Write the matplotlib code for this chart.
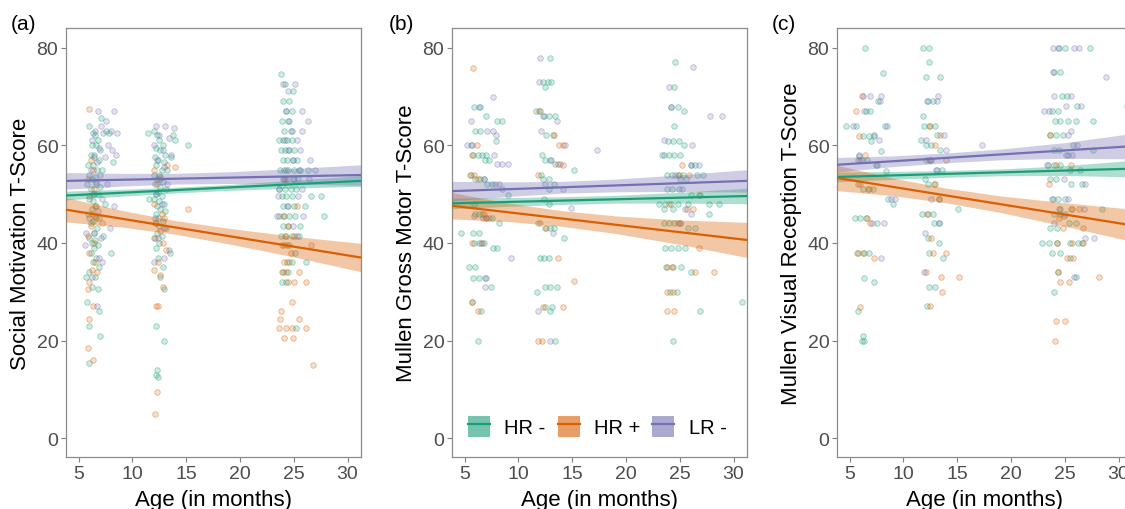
import matplotlib
matplotlib.use("Agg")
import matplotlib.pyplot as plt
import numpy as np
from matplotlib.patches import Patch
from matplotlib.lines import Line2D
from matplotlib.colors import to_rgb

plt.rcParams['font.family'] = ['Liberation Sans', 'DejaVu Sans']

GROUPS = ["HR -", "HR +", "LR -"]
COLORS = ["#1B9E77", "#D95F02", "#7570B3"]
X_TICKS = [5, 10, 15, 20, 25, 30]
Y_TICKS = [0, 20, 40, 60, 80]
Y_LABELS = ["Social Motivation T-Score", "Mullen Gross Motor T-Score",
            "Mullen Visual Reception T-Score"]
X_LABEL = "Age (in months)"
TAGS = ["(a)", "(b)", "(c)"]

# ---------------- Panel (a): (age, score) points ----------------
A_HR_NEG = [(6.0,64),(6.3,62.5),(6.5,62),(6.8,61),(6.2,60),(6.6,60),(7.0,59),(6.1,58),(6.4,57.5),(6.9,57),
            (5.9,56),(6.3,56),(6.7,55),(7.2,55),(6.0,54),(6.5,53.5),(6.2,53),(5.8,52),(6.6,52),(7.0,51.5),
            (6.1,51),(6.4,50),(6.8,50),(6.0,49),(6.3,48.5),(7.4,48),(6.6,47.5),(6.2,47),(5.9,46),(6.5,45.5),
            (6.9,45),(6.3,44.5),(6.1,44),(6.7,43),(6.4,42),(6.0,41),(7.3,41.5),(6.5,40.5),(6.2,40),(6.8,39.5),
            (6.4,39),(6.1,38),(8.0,38),(6.6,37),(6.3,36),(6.9,35),(6.0,34),(6.5,33),(5.7,33),(6.2,31),
            (6.8,30.5),(5.8,28),(6.9,26),(6.0,23),(7.0,21),(6.0,15.5),(7.5,63),(7.8,62.5),(8.2,56.5),(7.1,65.5),
            (12.0,63),(12.3,62),(12.5,61),(12.8,60),(12.2,59.5),(12.6,59),(13.0,58),(12.1,57.5),(12.4,57),(12.9,56.5),
            (12.2,56),(12.7,55),(13.2,55),(12.0,54),(12.5,54),(12.3,53),(12.8,52.5),(12.1,52),(12.6,51.5),(13.1,51),
            (12.4,50.5),(12.2,50),(12.7,49.5),(12.0,49),(12.5,48.5),(12.9,48),(12.3,47.5),(12.6,47),(13.0,46.5),(12.2,46),
            (12.4,45),(12.8,44.5),(12.1,44),(12.5,43.5),(13.1,43),(12.3,42),(12.7,41.5),(12.0,41),(12.5,40),(12.2,39),
            (13.5,38),(12.4,37),(12.8,35),(12.6,33),(12.9,30.5),(12.2,23),(12.9,20),(12.3,14),(12.2,13),(12.4,12.5),
            (13.8,62),(14.0,61),(15.2,60),(11.4,62.5),(13.6,57.5),(11.5,49),
            (23.8,74.5),(24.2,72.5),(24.9,71),(24.0,69),(24.6,69),(24.3,67),(24.8,67),(23.9,65),(24.5,65),(24.1,63),
            (24.7,63),(23.6,61),(24.0,61),(24.4,61),(24.8,61),(23.8,59),(24.2,59),(24.6,59),(25.0,59),(24.0,57),
            (24.4,57),(24.9,57),(25.3,57),(23.7,55),(24.1,55),(24.5,55),(25.0,55),(25.6,55),(26.3,55),(24.0,53),
            (24.4,53),(24.9,53),(25.4,53),(23.6,51),(24.2,51),(24.7,51),(25.2,51),(23.9,49.5),(24.3,49.5),(24.8,49.5),
            (26.6,49.5),(24.0,47.5),(24.5,47.5),(25.0,47.5),(26.0,47.5),(23.6,45.5),(24.1,45.5),(24.6,45.5),(25.1,45.5),(27.8,45.5),
            (24.0,43.5),(24.5,43.5),(25.6,43.5),(23.8,41.5),(24.3,41.5),(24.8,41.5),(25.5,41.5),(24.1,39.5),(24.6,39.5),(25.1,38),
            (24.4,36),(24.8,36),(26.1,36),(24.0,34),(24.5,34),(23.9,32),(24.3,32),(25.2,22.5),(27.5,49.5)]
A_HR_POS = [(6.0,67.5),(6.1,57),(6.3,55),(5.9,53),(6.4,51),(6.0,49.5),(6.5,47.5),(6.2,46),(6.6,45),(6.1,43.5),
            (7.2,44),(5.9,41.5),(6.4,40),(6.0,38),(6.5,36),(6.2,34.5),(6.7,34),(6.0,32),(5.9,30.5),(6.3,27),
            (6.0,24.5),(5.9,18.5),(6.3,16),
            (12.0,55),(12.6,53.5),(13.2,56),(14.0,55.5),(12.3,52),(12.0,48),(12.7,46),(12.2,44),(12.6,42.5),(12.1,41),
            (12.8,40),(13.1,38.5),(12.4,36),(12.0,34.5),(12.6,33.5),(12.8,31),(12.2,27),(12.4,27),(12.3,9.5),(12.1,5),
            (15.2,47),(12.9,45),
            (24.0,45.5),(24.5,43.5),(24.2,41.5),(25.0,41.5),(24.4,39.5),(23.9,39.5),(26.6,39.5),(24.7,38),(24.1,36),(24.6,36),
            (23.9,34),(24.3,34),(25.5,34),(24.5,32),(25.0,32),(26.1,32),(24.8,28),(23.8,26),(23.7,24.5),(25.5,24.5),
            (23.6,22.5),(24.3,22.5),(24.8,22.5),(26.1,22.5),(24.1,20.5),(24.9,20.5),(26.8,15),(24.2,53),(25.3,47.5)]
A_LR_NEG = [(6.8,67),(7.5,65),(8.3,67),(7.1,64),(8.0,63),(7.3,62.5),(6.5,63),(8.6,62.5),(6.2,61),(7.7,60),
            (6.9,59.5),(8.1,59),(6.4,58),(7.4,57.5),(6.7,56.5),(8.5,58),(6.1,55),(7.0,54),(6.6,52.5),(7.6,52),
            (6.3,50),(7.2,49),(8.3,47.5),(6.8,46.5),(6.0,45),(7.9,43),(6.4,42),(5.6,39.5),(7.1,41),(6.9,37),
            (7.2,36),(6.2,33),(6.7,27),(5.7,42),
            (12.2,64),(13.0,64),(13.9,63.5),(12.5,62),(13.4,61.5),(12.0,60),(12.8,59),(13.6,58),(12.3,57),(12.9,55.5),
            (12.6,53),(13.2,52),(12.2,50),(12.7,48),(12.1,45),(12.9,43),(12.4,41),(13.4,38.5),(12.0,36),(12.9,37),
            (24.0,72.5),(25.1,72.5),(24.5,71),(24.3,67),(25.8,67),(26.3,65),(24.6,65),(24.8,63),(25.8,63),(24.2,61),
            (25.3,61),(24.5,59),(25.6,59),(24.9,57),(26.5,57),(24.3,55),(25.5,55),(27.0,55),(24.1,53),(25.0,53),
            (26.4,53),(23.6,51),(25.8,51),(23.5,49.5),(25.4,49.5),(24.4,47.5),(23.4,45.5),(25.9,45.5),(24.9,43.5),(25.3,41.5)]

# ---------------- Panel (b) ----------------
B_HR_NEG = [(5.9,67.9),(6.4,67.9),(7.0,66),(8.0,65),(8.5,65),(6.0,62.9),(6.4,62.9),(7.9,60.9),(5.6,60),(5.8,58),
            (6.2,58),(6.6,58),(7.0,58),(6.9,56.9),(7.3,56.9),(5.6,53.9),(6.0,53),(6.4,53),(6.8,53),(7.1,52),
            (7.5,52),(9.0,49.8),(5.9,47.9),(6.0,46),(6.3,46),(6.6,46),(7.0,45),(7.5,45),(8.2,44),(4.7,42),
            (5.8,42),(6.3,42),(5.9,39.9),(6.3,39.9),(6.8,39.9),(7.6,39),(8.0,39),(5.4,35.1),(6.0,35.1),(5.8,32.9),
            (6.3,32.9),(6.9,32.9),(7.4,30.9),(5.7,27.9),(6.5,26),(6.2,20),
            (12.9,77.9),(12.3,72.9),(12.7,72.9),(13.0,72.9),(12.5,72),(11.6,67),(12.0,67),(12.4,66),(12.8,66),(13.4,66),
            (13.2,62),(12.6,62),(12.2,58),(12.5,56.9),(12.9,56.9),(13.4,56.1),(15.2,55),(12.1,53.9),(12.3,53),(12.8,53),
            (13.3,52),(12.8,51),(12.4,49),(12.8,48),(11.8,44),(12.5,43),(12.9,43),(13.3,43),(14.2,41),(12.0,37),
            (12.4,37),(12.8,37),(12.5,31),(12.9,31),(13.6,31),(11.7,30),(12.5,26.8),(13.1,26.8),(13.4,20),(12.9,26),
            (24.6,77.1),(24.5,72),(24.2,67.9),(24.8,67.9),(25.4,67),(24.5,64),(23.9,60.9),(24.4,60.9),(24.9,60.9),(25.4,60),
            (23.5,58),(24.0,58),(24.5,58),(25.0,58),(26.0,56),(26.4,56),(23.8,54),(24.3,54),(24.8,54),(25.3,54),
            (26.6,54),(27.2,54),(25.0,53),(25.6,53),(23.8,51),(24.3,51),(24.9,51),(26.0,49.8),(26.9,49.8),(23.1,48),
            (23.6,48),(24.2,48),(24.8,48),(25.8,48),(27.7,48),(28.6,48),(23.5,47),(24.4,47),(27.7,46),(23.5,44),
            (24.0,44),(24.5,44),(25.0,44),(25.8,43),(26.4,43),(23.6,39),(24.2,39),(24.8,39),(25.5,39),(23.7,35),
            (24.4,35),(25.1,35),(26.0,34),(24.1,30),(24.7,30),(26.9,26),(24.4,20),(30.8,28)]
B_HR_POS = [(5.8,75.9),(5.7,58),(5.5,53.9),(5.9,53.9),(6.2,53),(6.8,46),(5.7,39.9),(6.6,39.9),(5.7,27.9),(6.2,26),
            (7.0,45),(6.1,60),
            (11.9,67),(13.3,62),(13.8,60),(14.1,60),(13.7,56.1),(11.8,53.9),(14.1,56),(12.0,44),(13.7,37),(15.2,32.2),
            (12.3,26.8),(14.1,26.8),(11.8,20),(12.2,20),(12.6,43),
            (25.2,56),(24.9,54),(25.9,54),(24.0,48),(25.7,47),(26.2,47),(26.8,39),(23.8,35),(26.4,34),(24.3,35),
            (28.2,34),(23.8,30),(24.4,30),(23.8,26),(24.5,26),(24.8,44),(26.8,49.8)]
B_LR_NEG = [(7.6,69.9),(6.3,67.9),(5.6,65),(7.1,62.9),(7.6,62.9),(7.9,62),(5.2,60),(5.7,60),(8.0,56.1),(8.5,56.1),
            (9.0,56.1),(7.7,58),(6.8,53),(7.8,52),(8.2,52),(6.7,45),(7.3,45),(6.5,39.9),(9.3,37),(7.0,32.9),
            (6.9,30.9),(5.9,45.5),(8.5,51),
            (12.0,77.9),(11.9,72.9),(12.1,62.9),(14.3,60),(13.9,56.1),(12.3,66),(13.6,64.9),(14.1,51),(14.9,47.2),(13.2,42),
            (11.8,26),(12.9,20),(12.5,52),(13.0,57),
            (26.2,76),(24.0,72),(24.2,67.9),(27.8,66),(28.9,66),(23.5,61),(26.1,60),(26.0,56),(23.3,58),(26.8,56),
            (24.6,54),(25.2,51),(25.5,47),(26.0,46),(25.0,44),(17.3,59)]

# ---------------- Panel (c) ----------------
C_HR_NEG = [(6.4,80),(8.1,74.8),(7.6,69),(6.5,67),(6.9,67),(4.7,63.9),(5.6,63.9),(8.3,63.9),(6.2,61.9),(6.8,61.9),
            (7.3,61.9),(7.0,60.9),(7.9,58.8),(5.9,57.8),(6.1,56.9),(6.6,56.9),(7.5,55.9),(8.4,54.7),(5.8,52),(6.2,51),
            (6.7,51),(7.2,51),(8.6,48.9),(9.0,48),(5.5,45),(6.0,45),(6.5,45),(7.5,44),(5.8,38),(6.3,38),
            (6.8,38),(6.3,32.9),(7.3,31.9),(5.8,26),(6.2,21),(6.1,20),(6.3,20),
            (11.8,80),(12.4,80),(12.4,77),(12.1,74),(13.4,74),(12.3,69),(12.7,69),(11.8,66),(11.9,64),(12.4,64),
            (12.9,64),(13.1,62),(11.6,61),(12.1,60),(12.6,60),(13.4,59),(12.1,57),(12.6,57),(13.1,55),(13.6,55),
            (12.0,53),(12.3,52),(12.8,52),(13.3,49),(15.1,47),(11.7,46),(12.3,46),(12.7,46),(12.8,44),(13.3,44),
            (12.3,41),(13.3,40),(12.4,38),(13.7,37),(12.4,31),(12.9,31),(12.2,27),
            (24.5,80),(25.0,80),(27.3,80),(24.0,75),(24.6,75),(24.7,70),(25.2,70),(26.1,68),(23.8,67),(24.4,67),
            (24.1,65),(24.6,65),(25.3,65),(26.0,65),(27.6,65),(23.6,62),(24.2,62),(24.8,62),(25.8,60),(24.0,59),
            (24.5,59),(27.6,59),(25.3,58),(23.4,56),(24.0,56),(24.6,56),(25.5,55),(26.4,55),(23.6,53),(24.2,53),
            (25.6,52),(26.6,52),(23.8,49),(24.4,49),(25.0,49),(28.5,47),(24.6,47),(25.6,47),(24.0,46),(24.6,46),
            (25.4,44),(26.0,44),(23.6,43),(24.3,43),(22.9,40),(23.5,40),(24.3,40),(25.5,40),(26.2,40),(26.6,40),
            (23.8,38),(24.6,38),(25.5,37),(24.4,34),(26.0,33),(24.0,30),(30.8,68),(24.9,45.5)]
C_HR_POS = [(5.6,67),(6.1,70),(6.4,58),(5.8,56.9),(6.0,52),(6.8,51),(5.7,38),(6.2,38),(7.3,37),(6.0,26.9),
            (6.9,44),(5.9,61.9),(6.6,45),
            (12.5,64),(13.4,62),(12.9,60),(14.0,57),(12.4,57),(12.9,52),(12.2,46),(13.3,49),(12.6,41),(14.0,38),
            (12.7,38),(13.5,33),(15.2,33),(12.1,34),(13.6,30),(12.5,27),
            (23.6,62),(24.2,56),(25.6,56),(23.5,52),(25.7,47),(26.3,47),(24.8,43),(26.7,43),(24.3,40),(25.7,40),
            (26.7,40),(25.2,37),(25.8,37),(24.4,34),(25.4,32),(24.6,32),(28.2,33),(24.2,24),(25.0,24),(24.1,20),(24.5,45)]
C_LR_NEG = [(6.2,70),(6.9,70),(7.8,69),(7.9,70),(6.3,67),(5.3,63.9),(8.5,63.9),(7.3,62),(7.7,61),(5.9,58),
            (7.4,56),(8.8,48.9),(9.2,48.9),(7.1,44),(8.2,44),(7.9,37),(6.0,56.9),
            (12.2,69),(13.1,69),(13.2,70),(13.8,62),(14.0,59),(17.3,60),(12.5,57),(13.0,55),(12.1,61),(12.6,49),
            (13.3,44),(12.0,42),(11.9,34),
            (23.9,80),(24.4,80),(25.9,80),(26.3,80),(23.9,75),(28.8,74),(24.0,70),(25.6,70),(25.1,68),(26.5,68),
            (23.1,67),(23.5,67),(25.6,63),(25.3,62),(26.1,60),(25.1,58),(25.7,58),(23.3,56),(24.9,53),(26.9,52),
            (23.9,49),(25.3,49),(24.5,47),(26.8,47),(25.0,46),(26.9,41),(27.7,41),(25.9,33),(24.0,44)]

# ---------------- fitted lines (value at left / right end) and CI half widths ----------------
FIT_X = [3.82, 31.25]
BAND_X = [3.82, 9, 14, 19, 25, 31.25]
A_FIT = [(49.7, 52.7), (46.8, 37.0), (52.7, 53.9)]
A_HW = [[0.9, 0.7, 0.6, 0.6, 0.8, 1.1], [2.5, 1.7, 1.4, 1.6, 2.1, 2.9], [1.7, 1.3, 1.1, 1.2, 1.6, 2.1]]
B_FIT = [(48.1, 49.6), (47.6, 40.6), (50.6, 52.7)]
B_HW = [[1.1, 0.9, 0.8, 0.8, 1.1, 1.6], [2.7, 1.9, 1.6, 1.8, 2.5, 3.6], [2.0, 1.5, 1.2, 1.3, 1.7, 2.3]]
C_FIT = [(53.5, 55.2), (53.3, 43.6), (56.0, 59.8)]
C_HW = [[1.0, 0.8, 0.7, 0.7, 1.0, 1.7], [2.6, 1.8, 1.5, 1.7, 2.4, 3.3], [1.5, 1.1, 1.0, 1.1, 1.6, 2.6]]

W, H = 1125, 510
fig = plt.figure(figsize=(W / 100, H / 100), dpi=100)

AX_LEFTS = [66, 452, 837]
AX_W, AX_TOP, AX_BOT = 295, 29, 458.3
TAG_X = [11, 389, 772]


def draw_panel(ax, groups_pts, fits, hws, ylabel):
    for pts, col in zip(groups_pts, COLORS):
        xs = [p[0] for p in pts]
        ys = [p[1] for p in pts]
        r, g, b = to_rgb(col)
        ax.scatter(xs, ys, s=16, facecolor=(r, g, b, 0.2), edgecolor=(r, g, b, 0.42),
                   linewidths=0.6, zorder=2)
    for fit, hw, col in zip(fits, hws, COLORS):
        mid = np.interp(BAND_X, FIT_X, fit)
        ax.fill_between(BAND_X, mid - np.array(hw), mid + np.array(hw), color=col,
                        alpha=0.35, lw=0, zorder=3)
        ax.plot(FIT_X, fit, color=col, lw=1.6, zorder=4, solid_capstyle='butt')
    ax.set_xlim(3.82, 31.25)
    ax.set_ylim(-3.9, 84)
    ax.set_xticks(X_TICKS)
    ax.set_yticks(Y_TICKS)
    ax.tick_params(length=3.5, width=0.8, color='#7f7f7f', labelcolor='#4d4d4d',
                   labelsize=14, pad=2)
    for s in ax.spines.values():
        s.set_color('#8c8c8c')
        s.set_linewidth(0.9)
    ax.set_xlabel(X_LABEL, fontsize=16, labelpad=5)
    ax.set_ylabel(ylabel, fontsize=16, labelpad=4)


panels = [
    ([A_HR_NEG, A_HR_POS, A_LR_NEG], A_FIT, A_HW),
    ([B_HR_NEG, B_HR_POS, B_LR_NEG], B_FIT, B_HW),
    ([C_HR_NEG, C_HR_POS, C_LR_NEG], C_FIT, C_HW),
]

axes = []
for i, (pts, fits, hws) in enumerate(panels):
    ax = fig.add_axes([AX_LEFTS[i] / W, 1 - AX_BOT / H, AX_W / W, (AX_BOT - AX_TOP) / H])
    draw_panel(ax, pts, fits, hws, Y_LABELS[i])
    fig.text(TAG_X[i] / W, 1 - 25 / H, TAGS[i], fontsize=15, ha='left', va='center')
    axes.append(ax)

handles = [(Patch(facecolor=c, alpha=0.6, edgecolor='none'), Line2D([], [], color=c, lw=1.6))
           for c in COLORS]
axes[1].legend(handles, GROUPS, loc='center left', bbox_to_anchor=(468 / W, 1 - 427.5 / H),
               bbox_transform=fig.transFigure, ncol=3, frameon=False, fontsize=14.5,
               handlelength=1.1, handleheight=1.3, handletextpad=0.7, columnspacing=0.6,
               borderpad=0, borderaxespad=0)

fig.savefig("out.png", dpi=100)
